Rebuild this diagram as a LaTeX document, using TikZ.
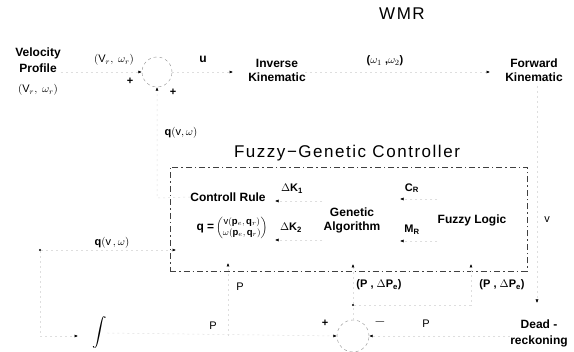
\documentclass[tikz,border=0pt]{standalone}
\usepackage{amsmath}
\usepackage{fontspec}
\setmainfont{Liberation Sans}
\newfontfamily\ttlfont[LetterSpace=9]{Liberation Sans}
\usetikzlibrary{arrows.meta,calc}
\begin{document}
\begin{tikzpicture}[x=1pt,y=-1pt,
  blk/.style={font=\bfseries\fontsize{12}{14}\selectfont, align=center, inner sep=0pt},
  lbl/.style={font=\fontsize{11}{13}\selectfont, inner sep=0pt},
  bl/.style={font=\bfseries\fontsize{11}{13}\selectfont, inner sep=0pt},
  ttl/.style={font=\ttlfont\fontsize{17}{20}\selectfont, inner sep=0pt},
  conn/.style={draw=black!13, line width=0.5pt, dash pattern=on 2pt off 3pt, -{Latex[length=3.5pt,width=3pt,color=black]}},
  plain/.style={draw=black!13, line width=0.5pt, dash pattern=on 2pt off 3pt},
  sumc/.style={circle, draw=black!45, dashed, line width=0.4pt, minimum size=30pt, inner sep=0pt},
  jdot/.style={circle, fill=black, inner sep=0pt, minimum size=2.2pt},
  fgcbox/.style={draw=black!75, line width=0.6pt, dash pattern=on 6pt off 3pt on 1.5pt off 3pt, inner sep=0pt},
]
\useasboundingbox (0,0) rectangle (574,352);
% top row
\node[ttl] (wmr) at (402,14) {WMR};
\node[blk, font=\bfseries\fontsize{12}{16}\selectfont] (vp) at (38,60) {Velocity\\Profile};
\node[lbl] (vpr) at (38,90) {$(\mathrm{V}_r,\ \omega_r)$};
\node[lbl] (vrl) at (114,60) {$(\mathrm{V}_r,\ \omega_r)$};
\node[sumc] (s1) at (157,72) {};
\node[bl] (p1) at (130,81) {+};
\node[bl] (p2) at (173,92) {+};
\node[blk] (ul) at (203,59) {u};
\node[blk] (ik) at (277,70) {Inverse\\Kinematic};
\node[bl] (wl) at (385,61) {($\omega_1$ ,$\omega_2$)};
\node[blk] (fk) at (534,70) {Forward\\Kinematic};
\node[bl] (qt) at (181,133) {q$(\mathrm{v},\omega)$};
% controller
\node[ttl] (title) at (347,153) {Fuzzy−Genetic Controller};
\node[fgcbox, minimum width=357pt, minimum height=104pt] (fgc) at (348.5,219) {};
\node[blk] (cr) at (228,197) {Controll Rule};
\node[inner sep=0pt] (qm) at (232,228) {{\bfseries\fontsize{12}{14}\selectfont q =\,}{\fontsize{9.5}{10.5}\selectfont$\begin{pmatrix}\mathrm{v}(\mathbf{p}_e,\mathbf{q}_r)\\ \omega(\mathbf{p}_e,\mathbf{q}_r)\end{pmatrix}$}};
\node[bl] (dk1) at (292,189) {$\Delta$K\textsubscript{1}};
\node[bl] (dk2) at (291,228) {$\Delta$K\textsubscript{2}};
\node[blk] (ga) at (352,220) {Genetic\\Algorithm};
\node[bl] (crl) at (412,188) {C\textsubscript{R}};
\node[bl] (mrl) at (412,230) {M\textsubscript{R}};
\node[blk] (fl) at (472,220) {Fuzzy Logic};
\node[lbl] (vl) at (547,220) {$\mathrm{v}$};
\node[bl] (ql) at (112,243) {q$(\mathrm{v}\,,\omega)$};
% bottom
\node[lbl] (pl1) at (240,287) {P};
\node[bl] (pe1) at (379,285) {(P , $\Delta$P\textsubscript{e})};
\node[bl] (pe2) at (502,285) {(P , $\Delta$P\textsubscript{e})};
\node[inner sep=0pt, font=\fontsize{14}{16}\selectfont] (intg) at (100,333) {$\displaystyle\int$};
\node[lbl] (pl2) at (213,326) {P};
\node[sumc, minimum size=32pt] (s2) at (353,336) {};
\node[bl] (pp) at (325,323) {+};
\node[lbl, font=\fontsize{14}{16}\selectfont] (mm) at (380,322) {$-$};
\node[lbl] (pl3) at (426,324) {P};
\node[blk, font=\bfseries\fontsize{12}{16}\selectfont] (dr) at (539,333) {Dead -\\reckoning};
% coordinates
\coordinate (vpo) at (vp.east |- s1.west);
\coordinate (ikin) at (233,72);
\coordinate (iko) at (305,72);
\coordinate (fkin) at (490,72);
\coordinate (qc) at (157,198);
\node[jdot] (j1) at (40,250) {};
\coordinate (fgcin) at (176,250);
\coordinate (intin) at (78,336);
\coordinate (pb) at (228,336);
\coordinate (crin) at (228,263);
\node[jdot] (j2) at (353,305) {};
\coordinate (j3) at (471,305);
\coordinate (gain) at (353,264);
\coordinate (flin) at (471,264);
\coordinate (fkout) at (537,86);
\coordinate (drin) at (537,303);
\coordinate (gaw1) at (322,201);
\coordinate (crE1) at (275,201);
\coordinate (gaw2) at (322,240);
\coordinate (crE2) at (275,240);
\coordinate (flw1) at (437,199);
\coordinate (gaE1) at (400,199);
\coordinate (flw2) at (437,241);
\coordinate (gaE2) at (400,241);
% connectors
\draw[conn] (vpo) -- (s1.west);
\draw[conn] (s1.east) -- (ikin);
\draw[conn] (iko) -- (fkin);
\draw[conn] (cr.west) -- (qc) -- (s1.south);
\draw[conn] (j1) -- (fgcin);
\draw[conn] (j1) |- (intin);
\draw[conn] (intg.east) -- (s2.west);
\draw[conn] (pb) -- (crin);
\draw[conn] (dr.west |- s2.east) -- (s2.east);
\draw[plain] (s2.north) -- (j2);
\draw[conn] (j2) -- (gain);
\draw[conn] (j2) -- (j3) -- (flin);
\draw[conn] (fkout) -- (drin);
\draw[conn] (gaw1) -- (crE1);
\draw[conn] (gaw2) -- (crE2);
\draw[conn] (flw1) -- (gaE1);
\draw[conn] (flw2) -- (gaE2);
\end{tikzpicture}
\end{document}
